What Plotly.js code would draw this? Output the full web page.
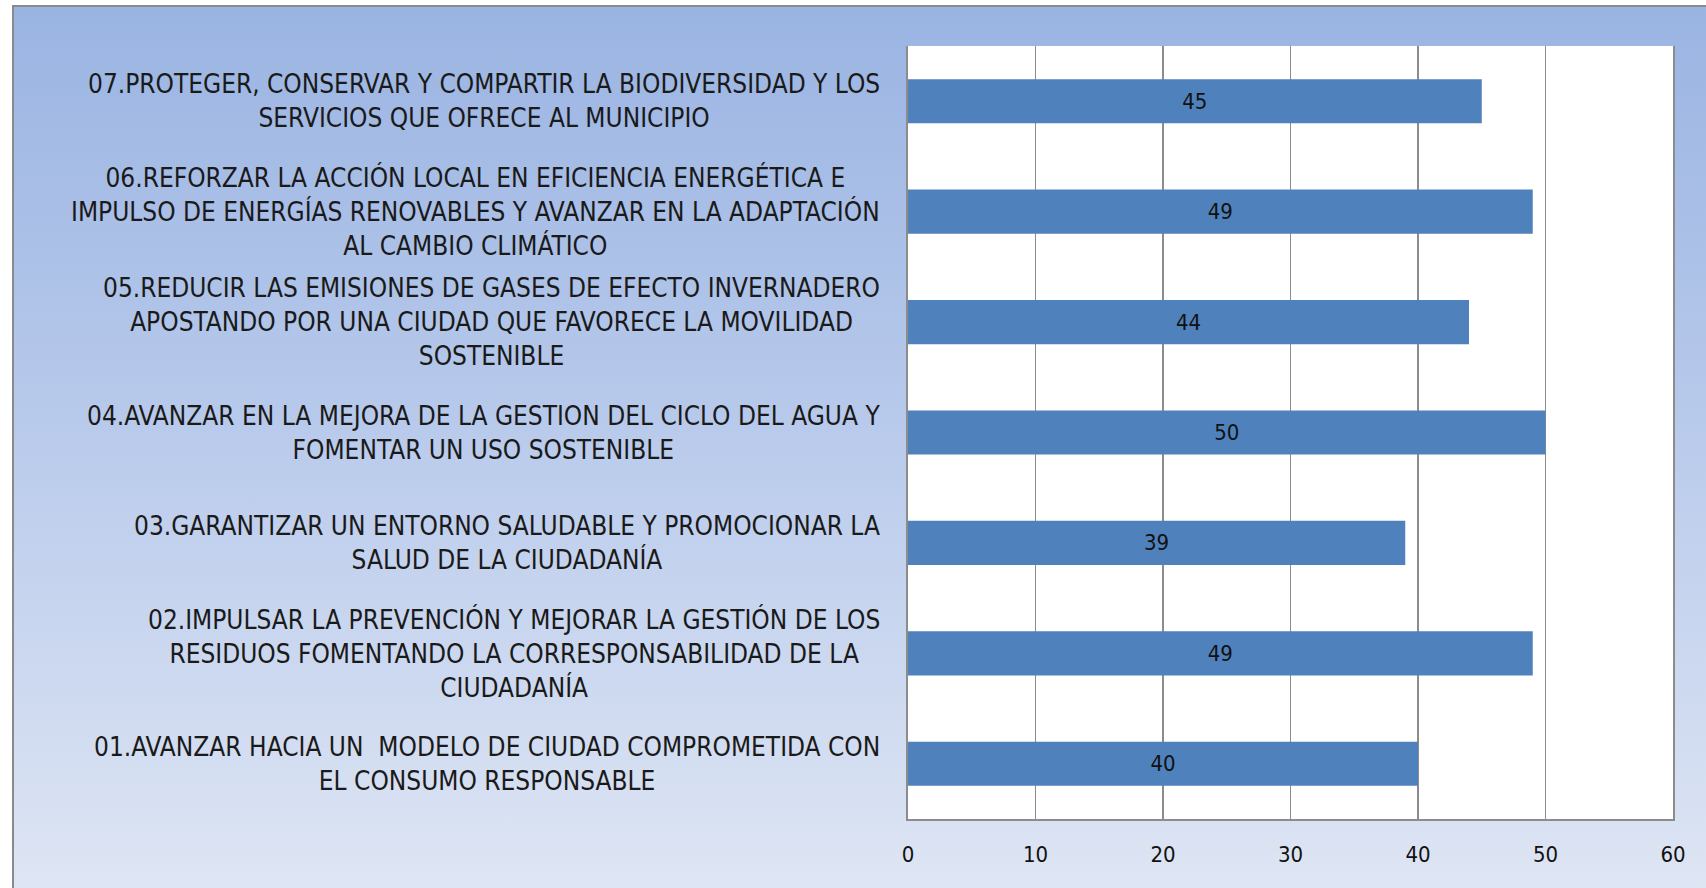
<!DOCTYPE html>
<html>
<head>
<meta charset="utf-8">
<script src="https://cdn.plot.ly/plotly-3.0.1.min.js"></script>
<style>
  html, body { margin: 0; padding: 0; background: #ffffff; width: 1706px; height: 888px; overflow: hidden; }
  #bg { position: absolute; left: 12px; top: 5px; width: 1700px; height: 890px;
        border-top: 2px solid #8a8a8a; border-left: 2px solid #8a8a8a;
        background: linear-gradient(to bottom, #9ab4e2 0%, #b7c9eb 45%, #dfe6f4 100%); }
  #chart { position: absolute; left: 0; top: 0; width: 1706px; height: 888px; }
</style>
</head>
<body>
<div id="bg"></div>
<div id="chart"></div>
<script>
// Data (bottom to top)
const categories = ["01", "02", "03", "04", "05", "06", "07"];
const labels = [
  "01.AVANZAR HACIA UN  MODELO DE CIUDAD COMPROMETIDA CON<br>EL CONSUMO RESPONSABLE",
  "02.IMPULSAR LA PREVENCIÓN Y MEJORAR LA GESTIÓN DE LOS<br>RESIDUOS FOMENTANDO LA CORRESPONSABILIDAD DE LA<br>CIUDADANÍA",
  "03.GARANTIZAR UN ENTORNO SALUDABLE Y PROMOCIONAR LA<br>SALUD DE LA CIUDADANÍA",
  "04.AVANZAR EN LA MEJORA DE LA GESTION DEL CICLO DEL AGUA Y<br>FOMENTAR UN USO SOSTENIBLE",
  "05.REDUCIR LAS EMISIONES DE GASES DE EFECTO INVERNADERO<br>APOSTANDO POR UNA CIUDAD QUE FAVORECE LA MOVILIDAD<br>SOSTENIBLE",
  "06.REFORZAR LA ACCIÓN LOCAL EN EFICIENCIA ENERGÉTICA E<br>IMPULSO DE ENERGÍAS RENOVABLES Y AVANZAR EN LA ADAPTACIÓN<br>AL CAMBIO CLIMÁTICO",
  "07.PROTEGER, CONSERVAR Y COMPARTIR LA BIODIVERSIDAD Y LOS<br>SERVICIOS QUE OFRECE AL MUNICIPIO"
];
const values = [40, 49, 39, 50, 44, 49, 45];
const xTicks = [0, 10, 20, 30, 40, 50, 60];

const FONT = "'Liberation Sans Narrow', 'Arial Narrow', 'DejaVu Sans Condensed', sans-serif";

const trace = {
  type: "bar",
  orientation: "h",
  y: categories,
  x: values,
  text: values.map(String),
  textposition: "inside",
  insidetextanchor: "middle",
  textangle: 0,
  constraintext: "none",
  textfont: { family: FONT, size: 22, color: "#111111" },
  marker: { color: "#4f81bd", line: { width: 0 } },
  hoverinfo: "none"
};

// category axis positions are indices; use index i for category categories[i]
const annotations = categories.map((c, i) => ({
  xref: "paper", yref: "y",
  x: 0, y: categories.indexOf(c),
  xanchor: "right", yanchor: "middle",
  xshift: -26,
  align: "center",
  showarrow: false,
  text: labels[i],
  font: { family: FONT, size: 26, color: "#1a1a1a" }
}));

const layout = {
  width: 1706, height: 888,
  margin: { l: 908, r: 33, t: 46, b: 69, pad: 0 },
  paper_bgcolor: "rgba(0,0,0,0)",
  plot_bgcolor: "#ffffff",
  showlegend: false,
  bargap: 0.6,
  xaxis: {
    range: [0, 60],
    tickvals: xTicks,
    ticktext: xTicks.map(String),
    showgrid: true, gridcolor: "#8c8c8c", gridwidth: 1.5,
    zeroline: false,
    showline: true, linecolor: "#8c8c8c", linewidth: 2,
    ticks: "",
    ticklabelstandoff: 15,
    tickfont: { family: FONT, size: 22, color: "#111111" },
    fixedrange: true
  },
  yaxis: {
    type: "category",
    categoryorder: "array",
    categoryarray: categories,
    range: [-0.5, 6.5],
    showticklabels: false,
    showgrid: false,
    zeroline: false,
    showline: true, mirror: true, linecolor: "#8c8c8c", linewidth: 2,
    ticks: "",
    fixedrange: true
  },
  annotations: annotations
};

Plotly.newPlot("chart", [trace], layout, { staticPlot: true, displayModeBar: false });
</script>
</body>
</html>
